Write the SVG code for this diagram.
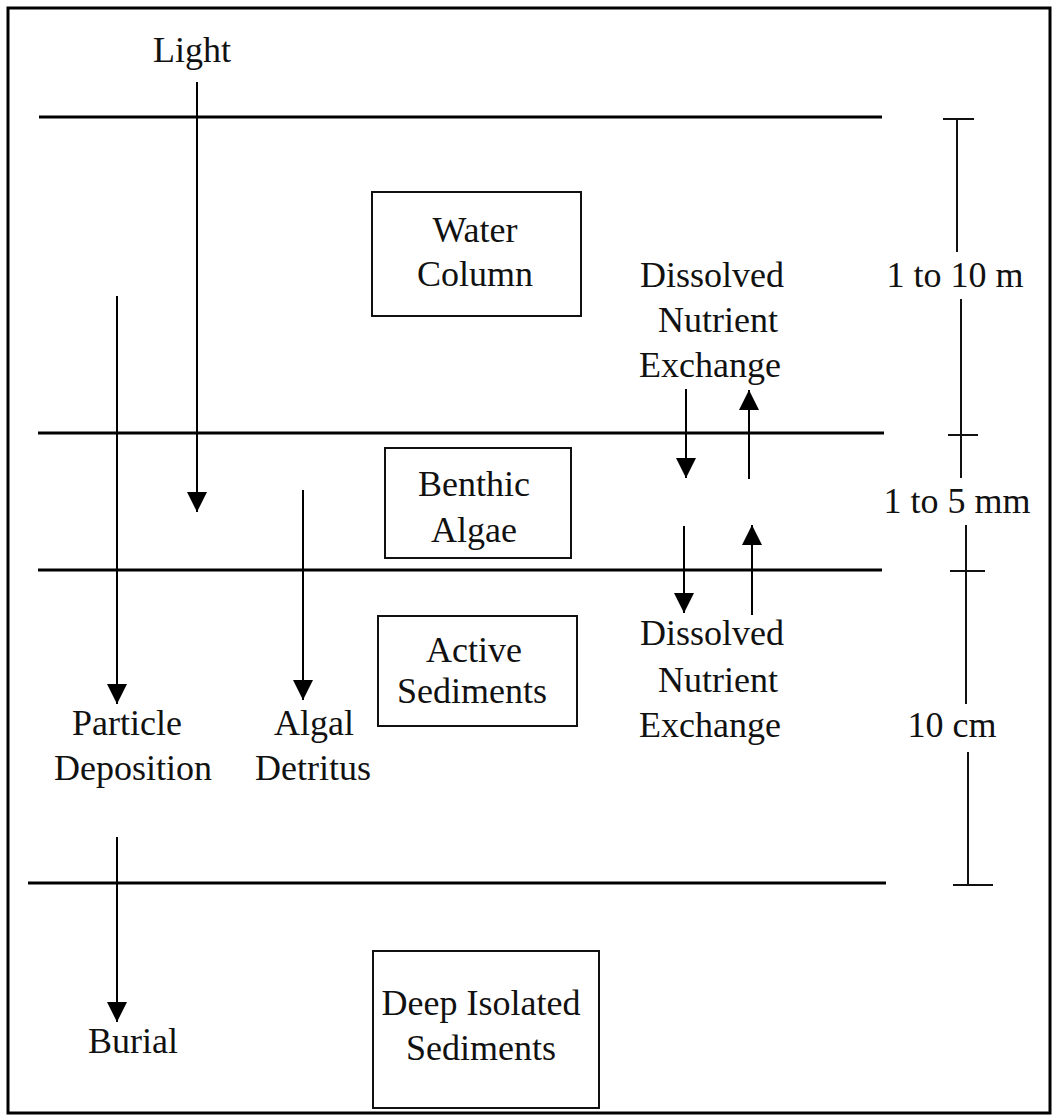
<svg xmlns="http://www.w3.org/2000/svg" width="1057" height="1120" viewBox="0 0 1057 1120">
<style>
text{font-family:"Liberation Serif","Times New Roman",serif;font-size:36px;fill:#111;text-anchor:middle}
.layer{stroke:#000;stroke-width:3;fill:none}
.box{stroke:#111;stroke-width:2;fill:none}
.arr{stroke:#000;stroke-width:2;fill:none;marker-end:url(#ah)}
.scale{stroke:#111;stroke-width:2;fill:none}
</style>
<defs>
<marker id="ah" markerUnits="userSpaceOnUse" markerWidth="20" markerHeight="20" viewBox="0 0 20 20" refX="20" refY="10" orient="auto">
<path d="M0,0 L20,10 L0,20 Z" fill="#000"/>
</marker>
</defs>
<rect x="8" y="8" width="1042" height="1105" fill="#fff" stroke="#000" stroke-width="3"/>
<g id="layers">
<line class="layer" x1="39" y1="117" x2="882" y2="117"/>
<line class="layer" x1="38" y1="433" x2="884" y2="433"/>
<line class="layer" x1="38" y1="570" x2="882" y2="570"/>
<line class="layer" x1="28" y1="883" x2="886" y2="883"/>
</g>
<g id="scale">
<line class="scale" x1="943" y1="119" x2="974" y2="119"/>
<line class="scale" x1="957" y1="119" x2="957" y2="252"/>
<text x="955" y="287">1 to 10 m</text>
<line class="scale" x1="961" y1="299" x2="961" y2="478"/>
<line class="scale" x1="948" y1="435" x2="978" y2="435"/>
<text x="957" y="513">1 to 5 mm</text>
<line class="scale" x1="966" y1="525" x2="966" y2="704"/>
<line class="scale" x1="950" y1="571" x2="985" y2="571"/>
<text x="952" y="737">10 cm</text>
<line class="scale" x1="968" y1="752" x2="968" y2="885"/>
<line class="scale" x1="953" y1="885" x2="993" y2="885"/>
</g>
<g id="water-column">
<rect class="box" x="372" y="192" width="209" height="124"/>
<text x="475" y="242">Water</text>
<text x="475" y="286">Column</text>
</g>
<g id="benthic-algae">
<rect class="box" x="385" y="448" width="186" height="110"/>
<text x="474" y="496">Benthic</text>
<text x="474" y="542">Algae</text>
</g>
<g id="active-sediments">
<rect class="box" x="378" y="616" width="199" height="110"/>
<text x="474" y="662">Active</text>
<text x="472" y="703">Sediments</text>
</g>
<g id="deep-isolated-sediments">
<rect class="box" x="373" y="951" width="226" height="157"/>
<text x="481" y="1015">Deep Isolated</text>
<text x="481" y="1060">Sediments</text>
</g>
<g id="labels">
<text x="192" y="62">Light</text>
<text x="712" y="287">Dissolved</text>
<text x="718" y="332">Nutrient</text>
<text x="710" y="377">Exchange</text>
<text x="712" y="645">Dissolved</text>
<text x="718" y="692">Nutrient</text>
<text x="710" y="737">Exchange</text>
<text x="127" y="735">Particle</text>
<text x="133" y="780">Deposition</text>
<text x="314" y="735">Algal</text>
<text x="313" y="780">Detritus</text>
<text x="133" y="1053">Burial</text>
</g>
<g id="connectors">
<line class="arr" x1="197" y1="82" x2="197" y2="512"/>
<line class="arr" x1="117" y1="296" x2="117" y2="704"/>
<line class="arr" x1="117" y1="837" x2="117" y2="1022"/>
<line class="arr" x1="303" y1="490" x2="303" y2="700"/>
<line class="arr" x1="686" y1="389" x2="686" y2="478"/>
<line class="arr" x1="749" y1="479" x2="749" y2="390"/>
<line class="arr" x1="684" y1="526" x2="684" y2="613"/>
<line class="arr" x1="752" y1="615" x2="752" y2="525"/>
</g>
</svg>
